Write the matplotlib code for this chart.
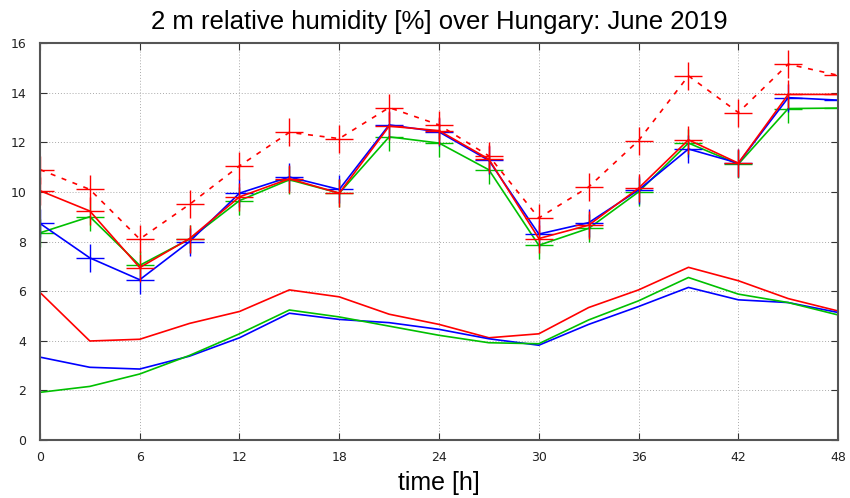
import matplotlib
matplotlib.use("Agg")
import matplotlib.pyplot as plt

hours = [0, 3, 6, 9, 12, 15, 18, 21, 24, 27, 30, 33, 36, 39, 42, 45, 48]

# upper group (with + markers)
red_dashed = [10.9, 10.1, 8.1, 9.5, 11.05, 12.4, 12.15, 13.4, 12.7, 11.45,
              8.95, 10.2, 12.07, 14.68, 13.2, 15.15, 14.7]
red_upper = [10.05, 9.23, 6.95, 8.12, 9.8, 10.53, 9.95, 12.65, 12.47, 11.32,
             8.12, 8.66, 10.15, 12.1, 11.16, 13.93, 13.93]
blue_upper = [8.73, 7.34, 6.46, 8.0, 9.95, 10.6, 10.1, 12.7, 12.42, 11.27,
              8.3, 8.76, 10.08, 11.73, 11.16, 13.8, 13.7]
green_upper = [8.35, 9.0, 7.04, 8.1, 9.65, 10.49, 9.95, 12.22, 11.97, 10.89,
               7.85, 8.53, 10.0, 11.97, 11.12, 13.36, 13.38]

# lower group (no markers)
red_lower = [5.95, 3.99, 4.06, 4.7, 5.18, 6.05, 5.77, 5.07, 4.66, 4.12,
             4.28, 5.34, 6.05, 6.96, 6.42, 5.7, 5.2]
blue_lower = [3.34, 2.93, 2.86, 3.38, 4.12, 5.11, 4.86, 4.73, 4.46, 4.08,
              3.82, 4.66, 5.38, 6.15, 5.65, 5.54, 5.14]
green_lower = [1.92, 2.16, 2.66, 3.41, 4.28, 5.24, 4.96, 4.59, 4.22, 3.92,
               3.88, 4.84, 5.61, 6.55, 5.88, 5.54, 5.04]

xticks = [0, 6, 12, 18, 24, 30, 36, 42, 48]
yticks = [0, 2, 4, 6, 8, 10, 12, 14, 16]

fig = plt.figure(figsize=(8.5, 4.98), dpi=100)
ax = fig.add_axes([0.047, 0.1165, 0.939, 0.797])

mk = dict(marker='+', markersize=20, markeredgewidth=1.0)
ax.plot(hours, red_lower, color='#ff0000', lw=1.2)
ax.plot(hours, blue_lower, color='#0000ff', lw=1.2)
ax.plot(hours, green_lower, color='#00c000', lw=1.2)

ax.plot(hours, green_upper, color='#00c000', lw=1.2, **mk)
ax.plot(hours, blue_upper, color='#0000ff', lw=1.2, **mk)
ax.plot(hours, red_upper, color='#ff0000', lw=1.2, **mk)
ax.plot(hours, red_dashed, color='#ff0000', lw=1.2, ls=(0, (3, 4)), **mk)

ax.set_xlim(0, 48)
ax.set_ylim(0, 16)
ax.set_xticks(xticks)
ax.set_yticks(yticks)
ax.tick_params(direction='in', length=5, width=0.8, top=True, right=True,
               labelsize=9, colors='#333333', labelcolor='#222222')
ax.tick_params(axis='x', pad=8)
ax.tick_params(axis='y', pad=10)
ax.grid(True, color='#aaaaaa', ls=(0, (1, 2)), lw=0.7)
for s in ax.spines.values():
    s.set_color('#555555')
    s.set_linewidth(1.5)

ax.set_title("2 m relative humidity [%] over Hungary: June 2019",
             fontsize=18.5, family='Liberation Sans', pad=10)
ax.set_xlabel("time [h]", fontsize=18, family='Liberation Sans', labelpad=5)

fig.savefig("out.png", dpi=100)
